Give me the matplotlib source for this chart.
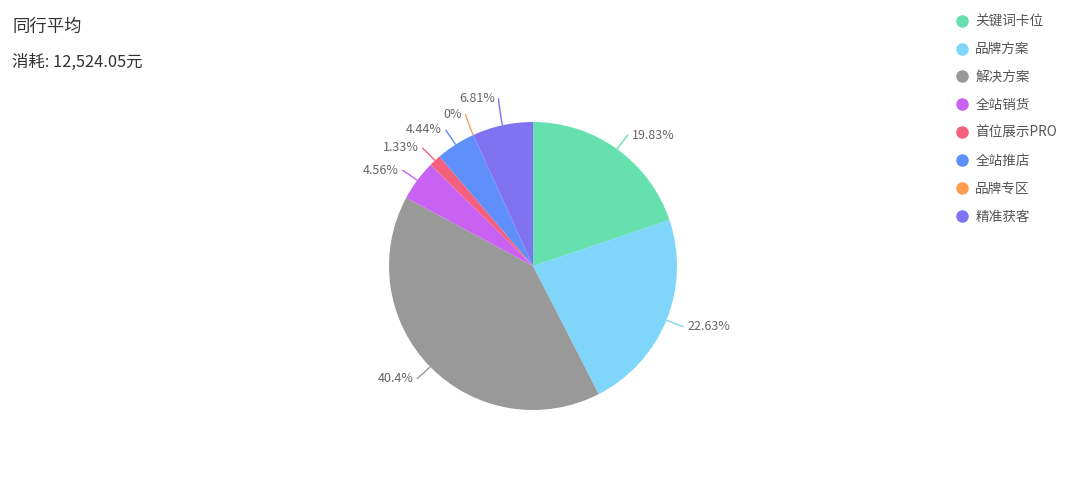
import numpy as np
import matplotlib.pyplot as plt
from matplotlib.path import Path
from matplotlib.patches import PathPatch
from matplotlib.lines import Line2D

plt.rcParams['font.family'] = ['Noto Sans CJK SC', 'DejaVu Sans']

# data
categories = ['关键词卡位', '品牌方案', '解决方案', '全站销货', '首位展示PRO', '全站推店', '品牌专区', '精准获客']
shares = [19.83, 22.63, 40.4, 4.56, 1.33, 4.44, 0, 6.81]
labels = ['19.83%', '22.63%', '40.4%', '4.56%', '1.33%', '4.44%', '0%', '6.81%']
colors = ['#67e0b0', '#80d5fa', '#999999', '#c962f2', '#f5607f', '#5e8ffa', '#ff9d4e', '#8072f1']

title = '同行平均'
subtitle = '消耗: 12,524.05元'

fig = plt.figure(figsize=(10.8, 5), dpi=100)

# pie axes: centered at (533, 266) px, radius 144 px -> limits +-1.5
ax = fig.add_axes([(533 - 216) / 1080, (500 - 266 - 216) / 500, 432 / 1080, 432 / 500])

ax.pie(shares, colors=colors, startangle=90, counterclock=False, radius=1,
       wedgeprops=dict(linewidth=0))
ax.set_xlim(-1.5, 1.5)
ax.set_ylim(-1.5, 1.5)
ax.set_aspect('equal')
ax.axis('off')

# label positions from wedge mid angles (clockwise from top)
total = sum(shares)
cum = np.cumsum([0] + shares)
items = []
for i, v in enumerate(shares):
    mid = (cum[i] + v / 2) / total * 2 * np.pi
    dx, dy = np.sin(mid), np.cos(mid)
    items.append([i, dx, dy, 1.13 * dx, 1.12 * dy])

# simple overlap push on each side
min_gap = 0.11
for side in (1, -1):
    group = [it for it in items if np.sign(it[1]) == side or (it[1] == 0 and side == 1)]
    group.sort(key=lambda it: it[4])
    for k in range(1, len(group)):
        if group[k][4] - group[k - 1][4] < min_gap:
            group[k][4] = group[k - 1][4] + min_gap

for i, dx, dy, lx, ly in items:
    side = 1 if dx >= 0 else -1
    p0 = (dx, dy)
    p1 = (1.07 * dx, 1.07 * dy)
    p2 = (lx, ly)
    path = Path([p0, p1, p2], [Path.MOVETO, Path.CURVE3, Path.CURVE3])
    ax.add_patch(PathPatch(path, fill=False, edgecolor=colors[i], linewidth=1))
    ax.text(lx + side * 0.025, ly, labels[i], ha='left' if side > 0 else 'right',
            va='center', fontsize=9, color='#666666')

# titles
fig.text(12 / 1080, 1 - 27 / 500, title, fontsize=12.5, color='#333333', va='center', ha='left')
fig.text(12 / 1080, 1 - 62 / 500, subtitle, fontsize=11.8, color='#333333', va='center', ha='left')

# legend
handles = [Line2D([], [], marker='o', linestyle='', markersize=8, markerfacecolor=c,
                  markeredgecolor=c) for c in colors]
leg = fig.legend(handles, categories, loc='upper left', bbox_to_anchor=(948 / 1080, 1 - 9 / 500),
                 frameon=False, fontsize=9.8, labelspacing=1.02, handletextpad=0.4,
                 handlelength=1.2, borderaxespad=0)
for t in leg.get_texts():
    t.set_color('#555555')

fig.savefig('out.png', dpi=100)
